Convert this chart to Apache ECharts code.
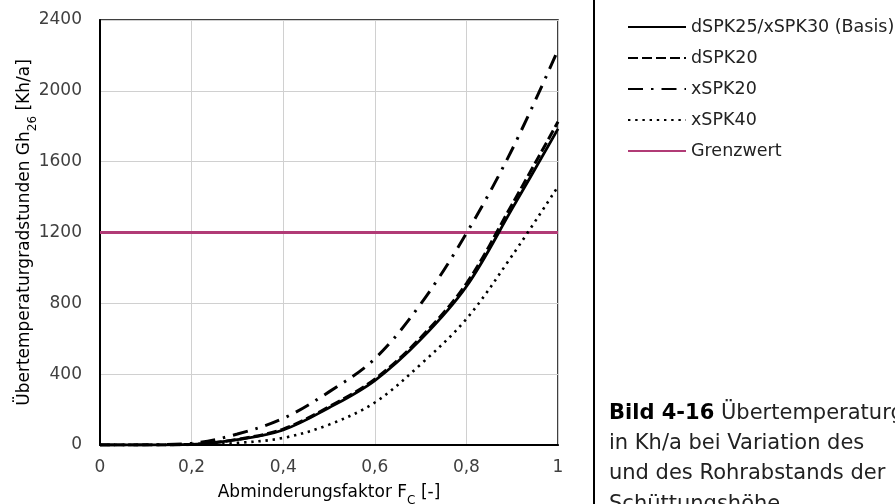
<!DOCTYPE html>
<html>
<head>
<meta charset="utf-8">
<script src="https://cdn.jsdelivr.net/npm/echarts@6/dist/echarts.min.js"></script>
<style>
html,body{margin:0;padding:0;background:#fff;}
#chart{width:895px;height:504px;}
</style>
</head>
<body>
<div id="chart"></div>
<script>
// Data
const fc = [0, 0.1, 0.2, 0.3, 0.4, 0.5, 0.6, 0.7, 0.8, 0.9, 1.0];
const basis  = [0, 0, 3, 30, 85, 210, 364, 595, 895, 1335, 1785];
const dspk20 = [0, 0, 4, 32, 90, 216, 372, 606, 912, 1360, 1825];
const xspk20 = [0, 1, 9, 62, 150, 300, 487, 796, 1195, 1670, 2231];
const xspk40 = [0, 0, 1, 12, 40, 115, 240, 455, 712, 1070, 1460];
const grenzX = [0, 1];
const grenzY = [1200, 1200];
const seriesNames = ['dSPK25/xSPK30 (Basis)', 'dSPK20', 'xSPK20', 'xSPK40', 'Grenzwert'];
const yName = 'Übertemperaturgradstunden Gh{sub|26} [Kh/a]';
const xName = 'Abminderungsfaktor F{sub|C} [-]';
const captionLines = ['Übertemperaturgradstunden Gh26', 'in Kh/a bei Variation des', 'und des Rohrabstands der', 'Schüttungshöhe'];

const FONT = 'DejaVu Sans';
const pair = (xs, ys) => xs.map((x, i) => [x, ys[i]]);

const chart = echarts.init(document.getElementById('chart'), null, {renderer: 'canvas'});
const lineSeries = (name, ys, style, xs) => ({
  name: name,
  type: 'line',
  data: pair(xs || fc, ys),
  smooth: 0.35,
  showSymbol: false,
  symbol: 'none',
  animation: false,
  lineStyle: style,
  z: 3
});

chart.setOption({
  animation: false,
  backgroundColor: '#ffffff',
  textStyle: {fontFamily: FONT},
  grid: {left: 100, right: 337, top: 20, bottom: 59, containLabel: false, outerBoundsMode: 'none',
    show: true, borderColor: '#000', borderWidth: 1.5, backgroundColor: 'transparent'},
  legend: {
    orient: 'vertical',
    left: 622,
    top: 13,
    itemWidth: 58,
    itemHeight: 14,
    itemGap: 13,
    data: seriesNames,
    itemStyle: {opacity: 0},
    textStyle: {fontFamily: FONT, fontSize: 17.5, color: '#222'}
  },
  xAxis: {
    type: 'value',
    min: 0, max: 1, interval: 0.2,
    name: xName,
    nameLocation: 'middle',
    nameGap: 39,
    nameMoveOverlap: false,
    nameTextStyle: {fontFamily: FONT, fontSize: 17, color: '#000', rich: {sub: {fontFamily: FONT, fontSize: 12, color: '#000', verticalAlign: 'bottom', padding: [0, 0, -6, 0]}}},
    axisLine: {show: true, lineStyle: {color: '#000', width: 2}},
    axisTick: {show: false},
    axisLabel: {margin: 14, fontFamily: FONT, fontSize: 17, color: '#404040',
      formatter: v => (Math.round(v * 10) / 10).toString().replace('.', ',')},
    splitLine: {show: true, lineStyle: {color: '#d0d0d0', width: 1}}
  },
  yAxis: {
    type: 'value',
    min: 0, max: 2400, interval: 400,
    name: yName,
    nameLocation: 'middle',
    nameGap: 67,
    nameMoveOverlap: false,
    nameTextStyle: {fontFamily: FONT, fontSize: 17, color: '#000', rich: {sub: {fontFamily: FONT, fontSize: 12, color: '#000', verticalAlign: 'bottom', padding: [0, 0, -6, 0]}}},
    axisLine: {show: true, lineStyle: {color: '#000', width: 2}},
    axisTick: {show: false},
    axisLabel: {margin: 18, fontFamily: FONT, fontSize: 17, color: '#404040', formatter: v => String(Math.round(v))},
    splitLine: {show: true, lineStyle: {color: '#d0d0d0', width: 1}}
  },
  series: [
    lineSeries(seriesNames[0], basis, {color: '#000', width: 2.8, type: 'solid'}),
    lineSeries(seriesNames[1], dspk20, {color: '#000', width: 3, type: [10, 4]}),
    lineSeries(seriesNames[2], xspk20, {color: '#000', width: 3, type: [15, 8, 2.5, 8]}),
    lineSeries(seriesNames[3], xspk40, {color: '#000', width: 2.6, type: [2.4, 4.8]}),
    Object.assign(lineSeries(seriesNames[4], grenzY, {color: '#b13b76', width: 3, type: 'solid'}, grenzX), {smooth: false, z: 2})
  ],
  graphic: [
    {type: 'rect', shape: {x: 593, y: 0, width: 2, height: 504}, style: {fill: '#000'}, silent: true},
    {type: 'text', left: 609, top: 403, style: {
      text: '{b|Bild 4-16} ' + captionLines[0],
      rich: {b: {fontFamily: FONT, fontSize: 21, fontWeight: 'bold', fill: '#000'}},
      font: '21px "DejaVu Sans"', fill: '#222'}},
    {type: 'text', left: 609, top: 433, style: {text: captionLines[1], font: '21px "DejaVu Sans"', fill: '#222'}},
    {type: 'text', left: 609, top: 463, style: {text: captionLines[2], font: '21px "DejaVu Sans"', fill: '#222'}},
    {type: 'text', left: 609, top: 494, style: {text: captionLines[3], font: '21px "DejaVu Sans"', fill: '#222'}}
  ]
});
</script>
</body>
</html>
